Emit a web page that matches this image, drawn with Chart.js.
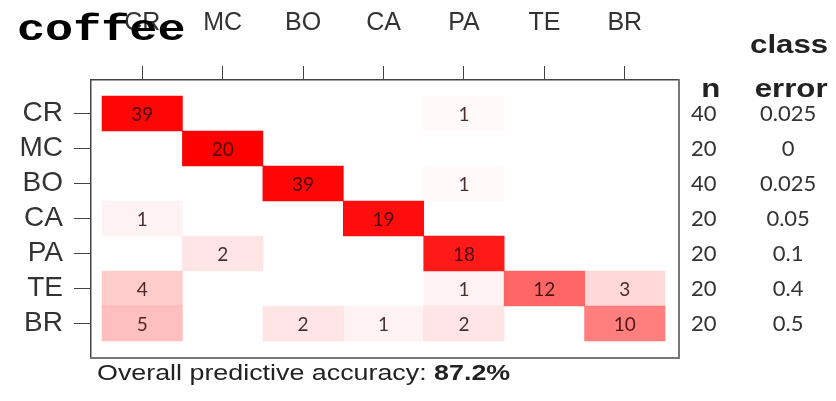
<!DOCTYPE html>
<html>
<head>
<meta charset="utf-8">
<script src="https://cdn.jsdelivr.net/npm/chart.js@4.4.1/dist/chart.umd.min.js"></script>
<style>
  html, body { margin: 0; padding: 0; background: #fff; }
  canvas { display: block; }
</style>
</head>
<body>
<canvas id="chart" width="836" height="401"></canvas>
<script>
// Class labels (actual classes on rows, predicted classes on columns)
const classes = ['CR', 'MC', 'BO', 'CA', 'PA', 'TE', 'BR'];

// Confusion counts, one array per actual class, ordered by predicted class
const actualCR = [39, 0, 0, 0, 1, 0, 0];
const actualMC = [0, 20, 0, 0, 0, 0, 0];
const actualBO = [0, 0, 39, 0, 1, 0, 0];
const actualCA = [1, 0, 0, 19, 0, 0, 0];
const actualPA = [0, 2, 0, 0, 18, 0, 0];
const actualTE = [4, 0, 0, 0, 1, 12, 3];
const actualBR = [5, 0, 2, 1, 2, 0, 10];

// Per-class sample sizes and class errors
const sampleSizes = [40, 20, 40, 20, 20, 20, 20];
const classErrors = [0.025, 0, 0.025, 0.05, 0.1, 0.4, 0.5];

const overallAccuracy = 87.2;
const datasetName = 'coffee';

// One floating bar per non-empty cell: x = predicted, y spans the actual row
const confusion = [actualCR, actualMC, actualBO, actualCA, actualPA, actualTE, actualBR];
const cells = [];
confusion.forEach((row, r) => {
  row.forEach((count, c) => {
    if (count > 0) {
      cells.push({ x: c, y: [r - 0.5, r + 0.5], count: count, share: count / sampleSizes[r] });
    }
  });
});

const X_MIN = -0.637, X_MAX = 6.674;
const Y_MIN = -0.957, Y_MAX = 6.986;

const classTicks = (scale) => {
  scale.ticks = classes.map((_, i) => ({ value: i }));
};

const SANS = '"Liberation Sans", Arial, sans-serif';
const CALI = 'Lato, "Open Sans", sans-serif';

function stretchedText(ctx, text, x, y, sx, align) {
  ctx.save();
  ctx.translate(x, y);
  ctx.scale(sx, 1);
  ctx.textAlign = align;
  ctx.fillText(text, 0, 0);
  ctx.restore();
}

const matrixText = {
  id: 'matrixText',
  afterDatasetsDraw(chart) {
    const ctx = chart.ctx;
    const meta = chart.getDatasetMeta(0);
    ctx.save();
    ctx.font = '19px ' + CALI;
    ctx.textAlign = 'center';
    ctx.textBaseline = 'middle';
    ctx.fillStyle = 'rgba(35,0,0,0.82)';
    meta.data.forEach((bar, i) => {
      const p = bar.getCenterPoint();
      ctx.fillText(String(cells[i].count), p.x, p.y + 1);
    });
    ctx.restore();
  },
  afterDraw(chart) {
    const ctx = chart.ctx;
    const area = chart.chartArea;
    ctx.save();
    ctx.textBaseline = 'alphabetic';

    // Column headers above the n / class error columns
    const nItem = chart.scales.yN.getLabelItems()[0];
    const eItem = chart.scales.yErr.getLabelItems()[0];
    ctx.fillStyle = '#222';
    ctx.font = 'bold 26px ' + SANS;
    stretchedText(ctx, 'n', nItem.options.translation[0] + 7, area.top + 17, 1.2, 'center');
    stretchedText(ctx, 'class', eItem.options.translation[0] + 1, area.top - 27, 1.2, 'center');
    stretchedText(ctx, 'error', eItem.options.translation[0] + 3, area.top + 17, 1.2, 'center');

    // Overall accuracy line below the matrix
    const sx = 1.22;
    const lead = 'Overall predictive accuracy: ';
    const fx = area.left + 6, fy = area.bottom + 22;
    ctx.font = '22px ' + SANS;
    ctx.fillStyle = '#222';
    stretchedText(ctx, lead, fx, fy, sx, 'left');
    const leadW = ctx.measureText(lead).width * sx;
    ctx.font = 'bold 22px ' + SANS;
    stretchedText(ctx, overallAccuracy.toFixed(1) + '%', fx + leadW, fy, sx, 'left');

    // Dataset name in the top-left corner
    ctx.font = 'bold 36px "Liberation Mono", "Courier New", monospace';
    ctx.fillStyle = '#000';
    stretchedText(ctx, datasetName, 17, 40, 1.3, 'left');
    ctx.restore();
  }
};

new Chart(document.getElementById('chart'), {
  type: 'bar',
  data: {
    datasets: [{
      data: cells,
      backgroundColor: (c) => c.raw ? 'rgba(255,0,0,' + c.raw.share + ')' : 'transparent',
      borderWidth: 0,
      categoryPercentage: 1,
      barPercentage: 1,
      xAxisID: 'x',
      yAxisID: 'y'
    }]
  },
  options: {
    responsive: false,
    devicePixelRatio: 1,
    animation: false,
    events: [],
    layout: { padding: 0 },
    plugins: { legend: { display: false }, tooltip: { enabled: false } },
    scales: {
      x: {
        type: 'linear', position: 'top', min: X_MIN, max: X_MAX, offset: false,
        afterBuildTicks: classTicks,
        afterFit: (s) => { s.height = 80; },
        grid: { offset: false, drawOnChartArea: false, tickLength: 14, color: '#444', lineWidth: 1 },
        border: { display: true, color: '#444', width: 1.5 },
        ticks: {
          autoSkip: false, maxRotation: 0, padding: 28, color: '#333',
          font: { family: SANS, size: 25 },
          callback: (v) => classes[v]
        }
      },
      y: {
        type: 'linear', position: 'left', reverse: true, min: Y_MIN, max: Y_MAX, offset: false,
        afterBuildTicks: classTicks,
        afterFit: (s) => { s.width = 91; },
        grid: { offset: false, drawOnChartArea: false, tickLength: 17, color: '#444', lineWidth: 1 },
        border: { display: true, color: '#444', width: 1.5 },
        ticks: {
          autoSkip: false, padding: 11, color: '#333',
          font: { family: SANS, size: 28 },
          callback: (v) => classes[v]
        }
      },
      yN: {
        type: 'linear', position: 'right', weight: 0, reverse: true, min: Y_MIN, max: Y_MAX, offset: false,
        afterBuildTicks: classTicks,
        afterFit: (s) => { s.width = 66; },
        grid: { display: false, drawTicks: false },
        border: { display: true, color: '#777', width: 2 },
        ticks: {
          autoSkip: false, crossAlign: 'center', padding: 12, color: '#333',
          font: { family: CALI, size: 22 },
          callback: (v) => String(sampleSizes[v])
        }
      },
      yErr: {
        type: 'linear', position: 'right', weight: 1, reverse: true, min: Y_MIN, max: Y_MAX, offset: false,
        afterBuildTicks: classTicks,
        afterFit: (s) => { s.width = 91; },
        grid: { display: false, drawTicks: false },
        border: { display: false },
        ticks: {
          autoSkip: false, crossAlign: 'center', padding: 15, color: '#333',
          font: { family: CALI, size: 22 },
          callback: (v) => String(classErrors[v])
        }
      },
      xB: {
        type: 'linear', position: 'bottom', min: X_MIN, max: X_MAX, offset: false,
        afterFit: (s) => { s.height = 43; },
        grid: { display: false, drawTicks: false },
        border: { display: true, color: '#777', width: 2 },
        ticks: { display: false }
      }
    }
  },
  plugins: [matrixText]
});
</script>
</body>
</html>
